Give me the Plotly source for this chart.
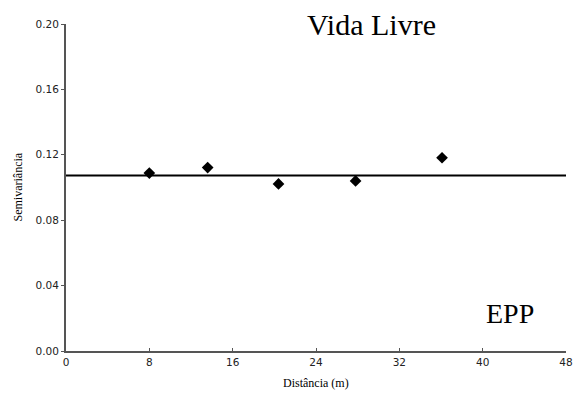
import plotly.graph_objects as go

# Data
distance = [8.0, 13.6, 20.4, 27.8, 36.1]
semivariance = [0.1088, 0.1122, 0.1022, 0.1040, 0.1182]
sill = 0.1074
x_range = [0, 48]
x_ticks = [0, 8, 16, 24, 32, 40, 48]
y_ticks = [0.00, 0.04, 0.08, 0.12, 0.16, 0.20]
y_tick_labels = ["0.00", "0.04", "0.08", "0.12", "0.16", "0.20"]

fig = go.Figure()
fig.add_trace(go.Scatter(
    x=x_range, y=[sill, sill], mode="lines",
    line=dict(color="black", width=2), showlegend=False, hoverinfo="skip"))
fig.add_trace(go.Scatter(
    x=distance, y=semivariance, mode="markers",
    marker=dict(symbol="diamond", size=9, color="black"), showlegend=False))

axis_common = dict(
    showgrid=False, zeroline=False, showline=True, linecolor="#555555", linewidth=2,
    tickfont=dict(family="DejaVu Sans", size=10.5, color="#222222"),
    ticklen=3, tickcolor="#555555", tickwidth=1, automargin=False)

fig.update_xaxes(range=x_range, tickvals=x_ticks, ticks="inside", **axis_common)
fig.update_yaxes(range=[0, 0.20], tickvals=y_ticks, ticktext=y_tick_labels,
                 ticks="outside", **axis_common)

fig.add_annotation(text="Distância (m)", xref="paper", yref="paper", x=0.5, y=-0.097,
                   xanchor="center", yanchor="middle", showarrow=False,
                   font=dict(family="Liberation Serif", size=12, color="black"))
fig.add_annotation(text="Semivariância", xref="paper", yref="paper", x=-0.098, y=0.5,
                   xanchor="center", yanchor="middle", showarrow=False, textangle=-90,
                   font=dict(family="Liberation Serif", size=12, color="black"))
fig.add_annotation(text="Vida Livre", xref="paper", yref="paper", x=0.61, y=1.0,
                   xanchor="center", yanchor="middle", showarrow=False,
                   font=dict(family="Liberation Serif", size=30, color="black"))
fig.add_annotation(text="EPP", xref="paper", yref="paper", x=0.888, y=0.116,
                   xanchor="center", yanchor="middle", showarrow=False,
                   font=dict(family="Liberation Serif", size=28, color="black"))

fig.update_layout(
    width=576, height=396,
    margin=dict(l=66, r=10, t=24, b=45, autoexpand=False),
    paper_bgcolor="white", plot_bgcolor="white")

fig.write_html("out.html")
